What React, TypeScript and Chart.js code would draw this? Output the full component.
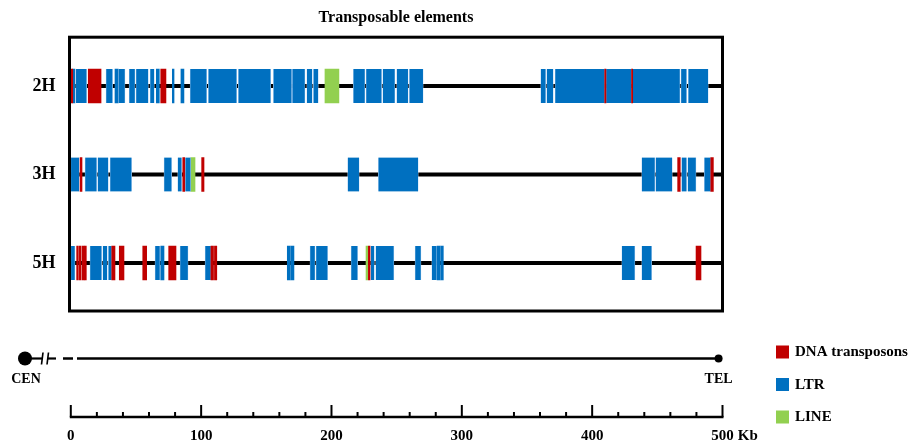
import React, { useEffect, useRef } from 'react';
import { Chart, registerables } from 'chart.js';

Chart.register(...registerables);

const FONT = "'Liberation Serif', 'Times New Roman', serif";

const TITLE = 'Transposable elements';
const ROWS = ['2H', '3H', '5H'];
const TYPES = ['DNA transposons', 'LTR', 'LINE'];
const TYPE_COLORS = ['#c00000', '#0070c0', '#92d050'];
const AXIS_TICKS = [0, 100, 200, 300, 400, 500];
const MINOR_TICKS = [20, 40, 60, 80, 120, 140, 160, 180, 220, 240, 260, 280, 320, 340, 360, 380, 420, 440, 460, 480];
const AXIS_UNIT = 'Kb';
const CEN_LABEL = 'CEN';
const TEL_LABEL = 'TEL';

// segments [start Kb, end Kb]
const DNA_2H = [[0, 1.5], [13.4, 23.2], [69.0, 73.0], [409.6, 410.6], [430.2, 431.1]];
const LTR_2H = [
  [1.5, 3.2], [3.8, 12.2], [27.0, 32.1], [33.9, 36.4], [36.4, 41.6], [44.7, 49.3], [50.0, 59.5],
  [60.8, 64.1], [65.6, 67.9], [77.9, 79.2], [84.5, 86.8], [91.5, 104.3], [105.5, 127.3],
  [128.5, 153.4], [155.4, 169.5], [169.9, 179.7], [181.0, 185.3], [186.1, 189.9], [216.7, 225.7],
  [226.5, 238.5], [239.3, 248.7], [250.0, 258.9], [259.7, 270.4], [360.5, 364.4], [365.1, 370.2],
  [371.5, 409.6], [410.6, 430.2], [431.1, 467.4], [468.1, 472.5], [473.7, 489.1],
];
const LINE_2H = [[195.0, 205.7]];

const DNA_3H = [[7.1, 8.6], [85.9, 87.4], [100.4, 102.2], [465.6, 467.6], [491.0, 493.0]];
const LTR_3H = [
  [0, 6.5], [10.9, 19.9], [20.6, 28.8], [30.1, 46.7], [71.5, 77.4], [82.0, 85.1], [87.8, 92.0],
  [212.4, 221.3], [235.9, 266.6], [438.0, 448.2], [448.7, 461.5], [468.6, 472.5], [473.3, 479.7],
  [486.0, 491.0],
];
const LINE_3H = [[92.0, 95.3]];

const DNA_5H = [
  [4.5, 5.8], [6.5, 7.8], [8.6, 10.1], [10.3, 11.9], [31.4, 33.9], [37.2, 40.8], [55.2, 58.2],
  [75.1, 80.7], [107.5, 109.5], [110.2, 112.0], [228.3, 229.6], [479.7, 483.5],
];
const LTR_5H = [
  [0, 3.2], [14.7, 23.7], [24.5, 28.0], [28.8, 31.4], [64.6, 68.4], [69.0, 71.5], [83.8, 90.0],
  [103.0, 107.5], [166.1, 168.2], [168.7, 171.2], [183.5, 187.4], [188.1, 197.1], [215.0, 220.1],
  [230.1, 232.9], [233.9, 247.9], [264.1, 268.7], [276.9, 280.7], [281.0, 283.3], [283.8, 285.8],
  [422.7, 432.8], [438.0, 445.7],
];
const LINE_5H = [[226.5, 227.8]];

export default function App() {
  const ref = useRef<HTMLCanvasElement>(null);

  useEffect(() => {
    const canvas = ref.current;
    if (!canvas) return;

    const segs = [
      [DNA_2H, DNA_3H, DNA_5H],
      [LTR_2H, LTR_3H, LTR_5H],
      [LINE_2H, LINE_3H, LINE_5H],
    ];

    const datasets = TYPES.map((label, t) => ({
      label,
      data: segs[t].flatMap((rowSegs, r) => rowSegs.map(([a, b]) => ({ x: [a, b], y: r + 1 }))),
      backgroundColor: TYPE_COLORS[t],
      borderColor: 'rgba(185,215,245,0.95)',
      borderWidth: (c: any) =>
        t === 1 && c.raw && c.raw.x[1] - c.raw.x[0] > 2.5
          ? { left: 0.6, right: 0.6, top: 0, bottom: 0 }
          : 0,
      borderSkipped: false,
      barThickness: 34,
      grouped: false,
    }));

    const line = (ctx: CanvasRenderingContext2D, x1: number, y1: number, x2: number, y2: number) => {
      ctx.beginPath();
      ctx.moveTo(x1, y1);
      ctx.lineTo(x2, y2);
      ctx.stroke();
    };

    const decor = {
      id: 'decor',
      beforeDatasetsDraw(chart: any) {
        const { ctx, chartArea: ca, scales } = chart;
        ctx.save();
        ctx.strokeStyle = '#000';
        ctx.lineWidth = 4;
        ROWS.forEach((_, i) => {
          const py = scales.y.getPixelForValue(i + 1);
          line(ctx, ca.left, py, ca.right, py);
        });
        ctx.restore();
      },
      afterDraw(chart: any) {
        const { ctx, chartArea: ca, scales } = chart;
        const xs = scales.x;
        const ys = scales.y;
        ctx.save();
        // frame
        const boxBottom = ys.getPixelForValue(ROWS.length) + 48;
        ctx.strokeStyle = '#000';
        ctx.lineWidth = 3;
        ctx.strokeRect(ca.left, ca.top, ca.right - ca.left, boxBottom - ca.top);

        // chromosome schematic
        const cy = 358.5;
        ctx.fillStyle = '#000';
        ctx.beginPath();
        ctx.arc(25, cy, 7, 0, Math.PI * 2);
        ctx.fill();
        ctx.lineWidth = 2.2;
        line(ctx, 31, cy, 42, cy);
        line(ctx, 48, cy, 56, cy);
        ctx.lineWidth = 1.6;
        line(ctx, 41.5, cy + 6, 43, cy - 6);
        line(ctx, 47, cy + 6, 48.5, cy - 6);
        ctx.lineWidth = 2.5;
        line(ctx, 63, cy, 73, cy);
        const telX = xs.getPixelForValue(497);
        line(ctx, 77, cy, telX, cy);
        ctx.beginPath();
        ctx.arc(telX, cy, 4, 0, Math.PI * 2);
        ctx.fill();
        ctx.font = `bold 14px ${FONT}`;
        ctx.textAlign = 'center';
        ctx.textBaseline = 'middle';
        ctx.fillText(CEN_LABEL, 26, 379);
        ctx.fillText(TEL_LABEL, telX, 379);

        // bottom axis
        const ay = ca.bottom;
        const x0 = xs.getPixelForValue(AXIS_TICKS[0]);
        const x1 = xs.getPixelForValue(AXIS_TICKS[AXIS_TICKS.length - 1]);
        ctx.lineWidth = 2.5;
        line(ctx, x0 - 1, ay, x1 + 1, ay);
        ctx.lineWidth = 2;
        AXIS_TICKS.forEach((v) => {
          const px = xs.getPixelForValue(v);
          line(ctx, px, ay, px, ay - 12);
        });
        MINOR_TICKS.forEach((v) => {
          const px = xs.getPixelForValue(v);
          line(ctx, px, ay, px, ay - 5);
        });
        // unit after last label
        ctx.font = `bold 15px ${FONT}`;
        const lastLbl = String(AXIS_TICKS[AXIS_TICKS.length - 1]);
        const w = ctx.measureText(lastLbl).width;
        ctx.textAlign = 'left';
        ctx.fillText(AXIS_UNIT, x1 + w / 2 + 4, ay + 10 + 9);

        // legend
        const lx = 776;
        const legendY = [352, 384.5, 417];
        chart.data.datasets.forEach((ds: any, i: number) => {
          ctx.fillStyle = ds.backgroundColor;
          ctx.fillRect(lx, legendY[i] - 6.5, 13, 13);
          ctx.fillStyle = '#000';
          ctx.font = `bold 15px ${FONT}`;
          ctx.textAlign = 'left';
          ctx.textBaseline = 'middle';
          ctx.fillText(ds.label, lx + 19, legendY[i] + 0.5);
        });
        ctx.restore();
      },
    };

    const chart = new Chart(canvas, {
      type: 'bar',
      data: { datasets: datasets as any },
      options: {
        indexAxis: 'y',
        animation: false,
        responsive: false,
        layout: { padding: { left: 0, right: 194.5, top: 0, bottom: 0 } },
        scales: {
          x: {
            type: 'linear',
            position: 'bottom',
            min: -1,
            max: 500,
            offset: false,
            afterBuildTicks: (s: any) => {
              s.ticks = AXIS_TICKS.map((v) => ({ value: v }));
            },
            afterFit: (s: any) => {
              s.height = 27;
            },
            ticks: {
              autoSkip: false,
              maxRotation: 0,
              padding: 10,
              color: '#000',
              font: { family: FONT, size: 15, weight: 'bold' },
              callback: (v: any) => String(v),
            },
            grid: { display: false, drawTicks: false },
            border: { display: false },
          },
          y: {
            type: 'linear',
            reverse: true,
            offset: false,
            min: 0.4486,
            max: 4.7401,
            afterBuildTicks: (s: any) => {
              s.ticks = ROWS.map((_, i) => ({ value: i + 1 }));
            },
            afterFit: (s: any) => {
              s.width = 69.5;
            },
            ticks: {
              autoSkip: false,
              padding: 14,
              color: '#000',
              font: { family: FONT, size: 18, weight: 'bold' },
              callback: (v: any) => ROWS[Math.round(v) - 1] ?? '',
            },
            grid: { display: false, drawTicks: false, offset: false },
            border: { display: false },
          },
        } as any,
        plugins: {
          legend: { display: false },
          tooltip: { enabled: false },
          title: {
            display: true,
            text: TITLE,
            fullSize: false,
            color: '#000',
            font: { family: FONT, size: 16, weight: 'bold' },
            padding: { top: 8, bottom: 10 },
          },
        },
      },
      plugins: [decor],
    });

    return () => chart.destroy();
  }, []);

  return (
    <div style={{ position: 'absolute', left: 0, top: 0, width: 917, height: 444, background: '#fff' }}>
      <canvas ref={ref} width={917} height={444} style={{ display: 'block' }} />
    </div>
  );
}
